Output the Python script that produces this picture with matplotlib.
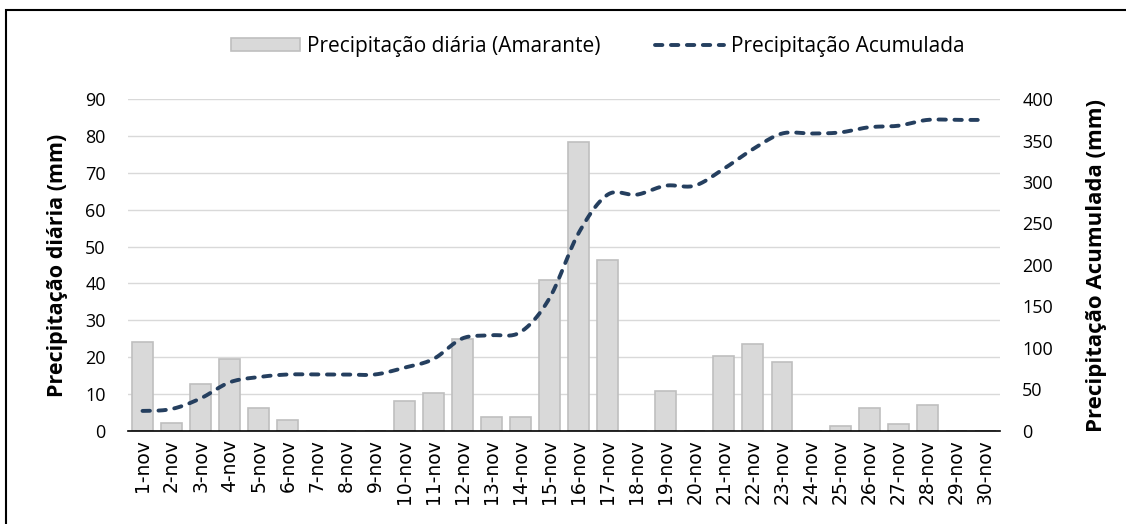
import numpy as np
import matplotlib
matplotlib.use("Agg")
import matplotlib.pyplot as plt
from matplotlib.patches import Rectangle

# dados
dias = [f"{d}-nov" for d in range(1, 31)]
diaria = [24.2, 2.3, 12.8, 19.4, 6.3, 3.1, 0, 0, 0, 8.1,
          10.4, 24.9, 3.8, 3.8, 40.8, 78.4, 46.4, 0, 10.9, 0,
          20.4, 23.6, 18.8, 0, 1.3, 6.3, 1.8, 7.0, 0, 0]
acumulada = [24.2, 26.5, 39.3, 58.7, 65.0, 68.1, 68.1, 68.1, 68.1, 76.2,
             86.6, 111.5, 115.3, 119.1, 159.9, 238.3, 284.7, 284.7, 295.6, 295.6,
             316.0, 339.6, 358.4, 358.4, 359.7, 366.0, 367.8, 374.8, 374.8, 374.8]

plt.rcParams['font.family'] = ['Open Sans', 'DejaVu Sans']

cor_barra = '#D9D9D9'
cor_borda = '#BFBFBF'
cor_linha = '#253F5F'

# suavizacao tipo Excel (catmull-rom) so para o desenho da linha
def suavizar(x, y, n=20):
    x = np.asarray(x, float)
    y = np.asarray(y, float)
    yp = np.concatenate([[y[0]], y, [y[-1]]])
    xs, ys = [], []
    for i in range(len(y) - 1):
        p0, p1, p2, p3 = yp[i], yp[i + 1], yp[i + 2], yp[i + 3]
        m1 = (p2 - p0) / 2
        m2 = (p3 - p1) / 2
        t = np.linspace(0, 1, n, endpoint=False)
        h00 = 2 * t**3 - 3 * t**2 + 1
        h10 = t**3 - 2 * t**2 + t
        h01 = -2 * t**3 + 3 * t**2
        h11 = t**3 - t**2
        xs.append(x[i] + t * (x[i + 1] - x[i]))
        ys.append(h00 * p1 + h10 * m1 + h01 * p2 + h11 * m2)
    xs.append([x[-1]])
    ys.append([y[-1]])
    return np.concatenate(xs), np.concatenate(ys)

fig = plt.figure(figsize=(11.26, 5.24), dpi=100)
ax = fig.add_axes([128 / 1126, 1 - 431 / 524, 872 / 1126, 332 / 524])
ax2 = ax.twinx()

x = np.arange(1, len(dias) + 1)
barras = ax.bar(x, diaria, width=0.72, color=cor_barra, edgecolor=cor_borda,
                linewidth=1.2, zorder=2, label='Precipitação diária (Amarante)')

xs, ys = suavizar(x, acumulada)
linha, = ax2.plot(xs, ys, color=cor_linha, lw=2.8, dashes=(1.9, 2.2),
                  dash_capstyle='round', label='Precipitação Acumulada')

ax.set_xlim(0.5, 30.5)
ax.set_ylim(0, 90)
ax2.set_ylim(0, 400)
ax.set_yticks(np.arange(0, 91, 10))
ax2.set_yticks(np.arange(0, 401, 50))
ax.set_xticks(x)
ax.set_xticklabels(dias, rotation=90, family='DejaVu Sans', fontsize=13.5)

ax.yaxis.grid(True, color='#D9D9D9', lw=1.0, zorder=0)
ax.set_axisbelow(True)
for a in (ax, ax2):
    for s in ['top', 'left', 'right', 'bottom']:
        a.spines[s].set_visible(False)
ax.spines['bottom'].set_visible(True)
ax.spines['bottom'].set_color('#000000')
ax.spines['bottom'].set_linewidth(1.2)
ax.tick_params(axis='y', length=0, pad=16, labelsize=13)
ax2.tick_params(axis='y', length=0, pad=16, labelsize=13)
ax.tick_params(axis='x', length=0, pad=6)

ax.set_ylabel('Precipitação diária (mm)', fontsize=15.5, fontweight='bold', labelpad=12)
ax2.set_ylabel('Precipitação Acumulada (mm)', fontsize=16, fontweight='bold', labelpad=24)

fig.legend(handles=[barras, linha], loc='center', bbox_to_anchor=(0.531, 0.912),
           ncol=2, frameon=False, fontsize=15, handlelength=3.3, handleheight=0.6,
           handletextpad=0.35, columnspacing=2.6)

# moldura (so a esquerda e o topo aparecem)
fig.patches.append(Rectangle((6 / 1126, -0.1), 1.2, 1.1 - 9.5 / 524,
                             transform=fig.transFigure, fill=False,
                             edgecolor='black', lw=1.5))

fig.savefig('out.png', dpi=100)
